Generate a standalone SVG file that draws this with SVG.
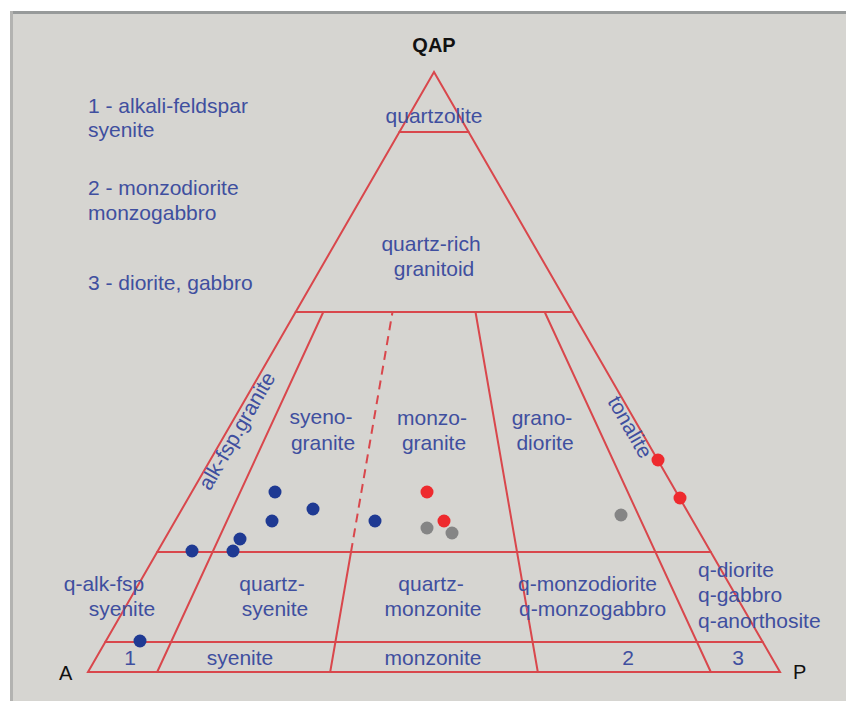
<svg xmlns="http://www.w3.org/2000/svg" width="846" height="701" viewBox="0 0 846 701">
<defs>
<style>
.ln{stroke:#d9474c;stroke-width:2;fill:none;stroke-linecap:round}
.dash{stroke-dasharray:9 6;stroke-linecap:butt}
.t{font-family:"Liberation Sans",Arial,sans-serif;font-size:21px;fill:#3f4f9f}
.m{text-anchor:middle}
.k{font-family:"Liberation Sans",Arial,sans-serif;font-size:20px;fill:#111}
.b{fill:#1f3a93}
.r{fill:#ee2a2e}
.g{fill:#858585}
</style>
</defs>
<rect x="0" y="0" width="846" height="701" fill="#ffffff"/>
<rect x="10" y="11" width="836" height="690" fill="#d6d5d1"/>
<rect x="10" y="11" width="836" height="3" fill="#979a9a"/>
<rect x="10" y="11" width="3" height="690" fill="#b3b3b1"/>

<g id="connectors">
<polygon class="ln" points="88,672 780,672 434,72"/>
<line class="ln" x1="399.4" y1="132" x2="468.6" y2="132"/>
<line class="ln" x1="295.6" y1="312" x2="572.4" y2="312"/>
<line class="ln" x1="157.2" y1="552" x2="710.8" y2="552"/>
<line class="ln" x1="105.3" y1="642" x2="762.7" y2="642"/>
<line class="ln" x1="157.2" y1="672" x2="323.3" y2="312"/>
<line class="ln" x1="330.2" y1="672" x2="351" y2="552"/>
<line class="ln dash" x1="351" y1="552" x2="392.5" y2="312"/>
<line class="ln" x1="537.8" y1="672" x2="475.5" y2="312"/>
<line class="ln" x1="710.8" y1="672" x2="544.7" y2="312"/>
</g>

<g id="title"><text class="k m" x="434" y="52" font-weight="bold">QAP</text></g>
<g id="vertexA"><text class="k" x="59" y="680">A</text></g>
<g id="vertexP"><text class="k" x="793" y="679">P</text></g>

<g id="legend">
<text class="t" x="88" y="113">1 - alkali-feldspar</text>
<text class="t" x="88" y="137">syenite</text>
<text class="t" x="88" y="195">2 - monzodiorite</text>
<text class="t" x="88" y="220">monzogabbro</text>
<text class="t" x="88" y="290">3 - diorite, gabbro</text>
</g>

<g id="quartzolite"><text class="t m" x="434" y="123">quartzolite</text></g>
<g id="quartz-rich-granitoid">
<text class="t m" x="431" y="251">quartz-rich</text>
<text class="t m" x="434" y="276">granitoid</text>
</g>
<g id="alk-fsp-granite"><text class="t m" transform="translate(237,431) rotate(-60)" x="0" y="7">alk-fsp.granite</text></g>
<g id="syenogranite">
<text class="t m" x="321" y="424">syeno-</text>
<text class="t m" x="323" y="450">granite</text>
</g>
<g id="monzogranite">
<text class="t m" x="432" y="425">monzo-</text>
<text class="t m" x="434" y="450">granite</text>
</g>
<g id="granodiorite">
<text class="t m" x="542" y="425">grano-</text>
<text class="t m" x="545" y="450">diorite</text>
</g>
<g id="tonalite"><text class="t m" transform="translate(630,427) rotate(60)" x="0" y="7">tonalite</text></g>

<g id="q-alk-fsp-syenite">
<text class="t m" x="104" y="591">q-alk-fsp</text>
<text class="t m" x="122" y="616">syenite</text>
</g>
<g id="quartz-syenite">
<text class="t m" x="272" y="591">quartz-</text>
<text class="t m" x="275" y="616">syenite</text>
</g>
<g id="quartz-monzonite">
<text class="t m" x="431" y="591">quartz-</text>
<text class="t m" x="433" y="616">monzonite</text>
</g>
<g id="q-monzodiorite">
<text class="t" x="518" y="591">q-monzodiorite</text>
<text class="t" x="519" y="616">q-monzogabbro</text>
</g>
<g id="q-diorite">
<text class="t" x="698" y="577">q-diorite</text>
<text class="t" x="698" y="602">q-gabbro</text>
<text class="t" x="698" y="628">q-anorthosite</text>
</g>
<g id="field-1"><text class="t m" x="130" y="665">1</text></g>
<g id="syenite"><text class="t m" x="240" y="665">syenite</text></g>
<g id="monzonite"><text class="t m" x="433" y="665">monzonite</text></g>
<g id="field-2"><text class="t m" x="628" y="665">2</text></g>
<g id="field-3"><text class="t m" x="738" y="665">3</text></g>

<g id="samples">
<circle class="b" cx="275" cy="492" r="6.5"/>
<circle class="b" cx="313" cy="509" r="6.5"/>
<circle class="b" cx="272" cy="521" r="6.5"/>
<circle class="b" cx="375" cy="521" r="6.5"/>
<circle class="b" cx="240" cy="539" r="6.5"/>
<circle class="b" cx="192" cy="551" r="6.5"/>
<circle class="b" cx="233" cy="551" r="6.5"/>
<circle class="b" cx="140" cy="641" r="6.5"/>
<circle class="r" cx="427" cy="492" r="6.5"/>
<circle class="r" cx="444" cy="521" r="6.5"/>
<circle class="g" cx="427" cy="528" r="6.5"/>
<circle class="g" cx="452" cy="533" r="6.5"/>
<circle class="g" cx="621" cy="515" r="6.5"/>
<circle class="r" cx="658" cy="460" r="6.5"/>
<circle class="r" cx="680" cy="498" r="6.5"/>
</g>
</svg>
